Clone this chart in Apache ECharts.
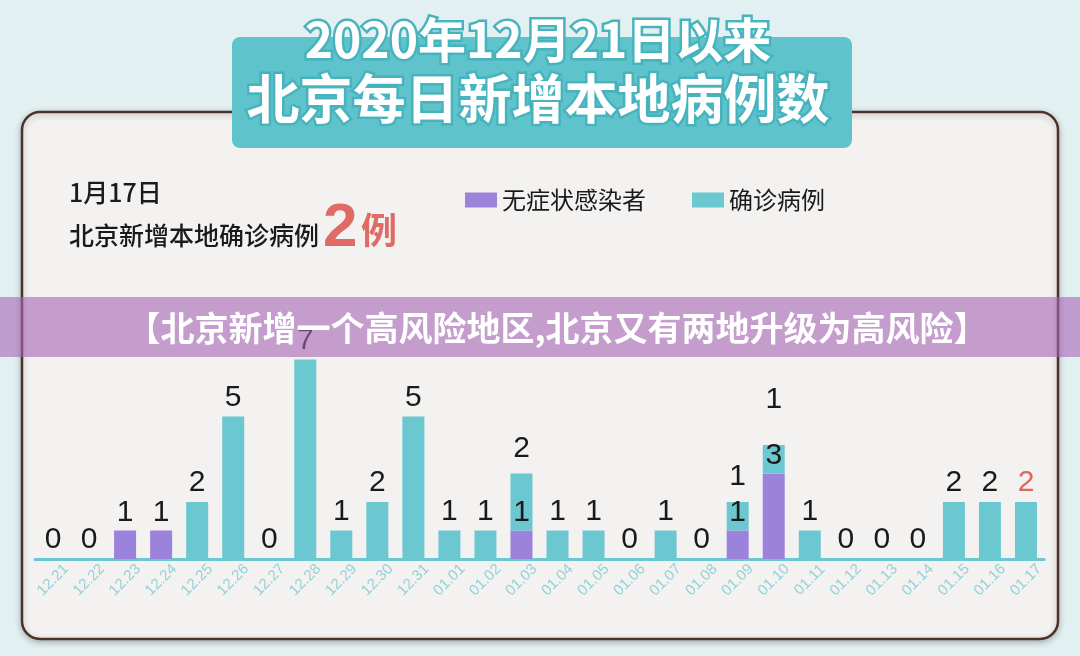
<!DOCTYPE html>
<html>
<head>
<meta charset="utf-8">
<script src="https://cdn.jsdelivr.net/npm/echarts@6/dist/echarts.min.js"></script>
<style>
  html, body { margin: 0; padding: 0; background: #e3f0f2; }
  #main { width: 1080px; height: 656px; }
</style>
</head>
<body>
<div id="main"></div>
<script>
// 日期
const days = ['12.21', '12.22', '12.23', '12.24', '12.25', '12.26', '12.27', '12.28', '12.29', '12.30', '12.31',
  '01.01', '01.02', '01.03', '01.04', '01.05', '01.06', '01.07', '01.08', '01.09', '01.10',
  '01.11', '01.12', '01.13', '01.14', '01.15', '01.16', '01.17']
// 无症状感染者
const asymptomatic = [0, 0, 1, 1, 0, 0, 0, 0, 0, 0, 0, 0, 0, 1, 0, 0, 0, 0, 0, 1, 3, 0, 0, 0, 0, 0, 0, 0]
// 确诊病例
const confirmed = [0, 0, 0, 0, 2, 5, 0, 7, 1, 2, 5, 1, 1, 2, 1, 1, 0, 1, 0, 1, 1, 1, 0, 0, 0, 2, 2, 2]

const purple = '#9b83dc'
const teal = '#6bc8d1'
const font = '"Noto Sans CJK SC", "Liberation Sans", sans-serif'
const numFont = '"Liberation Sans", sans-serif'

const chart = echarts.init(document.getElementById('main'))

// 确诊数据：叠在无症状上面的标签稍微抬高一点，最后一天红色
const confirmedData = confirmed.map((v, i) => {
  const item = { value: v, label: {} }
  if (asymptomatic[i] > 0 && v > 0) item.label.distance = asymptomatic[i] > 1 ? 30 : 10
  if (i === confirmed.length - 1) item.label.color = '#e0645f'
  return item
})

const option = {
  backgroundColor: '#e3f0f2',
  textStyle: { fontFamily: font },
  legend: {
    left: 460,
    top: 183,
    itemWidth: 32,
    itemHeight: 15,
    itemGap: 46,
    icon: 'rect',
    data: ['无症状感染者', '确诊病例'],
    textStyle: { fontSize: 24, color: '#1a1a1a', fontFamily: font }
  },
  grid: {
    left: 35,
    right: 36,
    top: 274,
    bottom: 97
  },
  xAxis: {
    type: 'category',
    data: days,
    axisLine: { lineStyle: { color: teal, width: 3 } },
    axisTick: { show: false },
    axisLabel: {
      rotate: 45,
      interval: 0,
      margin: 21,
      align: 'center',
      verticalAlign: 'middle',
      fontSize: 15,
      color: '#93d2d8',
      fontFamily: numFont
    }
  },
  yAxis: {
    type: 'value',
    min: 0,
    max: 10,
    show: false
  },
  series: [
    {
      name: '无症状感染者',
      type: 'bar',
      stack: 'total',
      barWidth: 22,
      itemStyle: { color: purple },
      label: {
        show: true,
        position: 'top',
        distance: 3,
        fontSize: 30,
        color: '#1a1a1a',
        fontFamily: numFont,
        formatter: p => (p.value > 0 ? p.value : '')
      },
      data: asymptomatic
    },
    {
      name: '确诊病例',
      type: 'bar',
      stack: 'total',
      barWidth: 22,
      itemStyle: { color: teal },
      label: {
        show: true,
        position: 'top',
        distance: 4,
        fontSize: 30,
        color: '#1a1a1a',
        fontFamily: numFont,
        formatter: p => (confirmed[p.dataIndex] === 0 && asymptomatic[p.dataIndex] > 0 ? '' : p.value)
      },
      data: confirmedData
    }
  ],
  graphic: [
    // 底板
    {
      type: 'rect',
      z: -10,
      shape: { x: 22, y: 112, width: 1036, height: 527, r: 18 },
      style: { fill: '#f3f2f1', stroke: '#4e3128', lineWidth: 2.5, shadowBlur: 6, shadowColor: 'rgba(0,0,0,0.25)', shadowOffsetY: 2 }
    },
    // 标题框
    {
      type: 'rect',
      z: -5,
      shape: { x: 232, y: 37, width: 620, height: 111, r: 8 },
      style: { fill: '#5fc3cc' }
    },
    {
      type: 'text',
      z: -4,
      style: {
        x: 538, y: 40, text: '2020年12月21日以来',
        align: 'center', verticalAlign: 'middle',
        font: 'bold 48px ' + font,
        fill: '#ffffff', stroke: '#46b3bd', lineWidth: 5,
        shadowBlur: 3, shadowColor: 'rgba(0,90,100,0.4)', shadowOffsetY: 2
      }
    },
    {
      type: 'text',
      z: -4,
      style: {
        x: 538, y: 99, text: '北京每日新增本地病例数',
        align: 'center', verticalAlign: 'middle',
        font: 'bold 53px ' + font,
        fill: '#ffffff', stroke: '#46b3bd', lineWidth: 5,
        shadowBlur: 3, shadowColor: 'rgba(0,90,100,0.4)', shadowOffsetY: 2
      }
    },
    // 说明文字
    {
      type: 'text',
      z: -4,
      style: { x: 69, y: 192, text: '1月17日', verticalAlign: 'middle', font: '500 25px ' + font, fill: '#1a1a1a' }
    },
    {
      type: 'text',
      z: -4,
      style: { x: 69, y: 235, text: '北京新增本地确诊病例', verticalAlign: 'middle', font: '500 25px ' + font, fill: '#1a1a1a' }
    },
    {
      type: 'text',
      z: -4,
      style: { x: 323, y: 229, text: '2', verticalAlign: 'middle', font: 'bold 62px ' + numFont, fill: '#df6a66' }
    },
    {
      type: 'text',
      z: -4,
      style: { x: 361, y: 230, text: '例', verticalAlign: 'middle', font: 'bold 36px ' + font, fill: '#df6a66' }
    },
    // 横幅
    {
      type: 'rect',
      z: 100,
      shape: { x: 0, y: 297, width: 1080, height: 60 },
      style: { fill: 'rgba(165,100,180,0.6)' }
    },
    {
      type: 'text',
      z: 101,
      style: {
        x: 557, y: 328, text: '【北京新增一个高风险地区,北京又有两地升级为高风险】',
        align: 'center', verticalAlign: 'middle',
        font: 'bold 34px ' + font, fill: '#ffffff'
      }
    }
  ]
}

chart.setOption(option)
</script>
</body>
</html>
